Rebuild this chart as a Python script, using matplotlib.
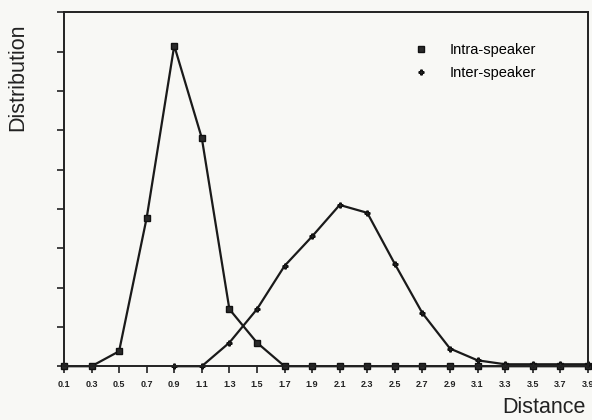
import matplotlib.pyplot as plt

plt.rcParams['font.family'] = ['Liberation Sans', 'DejaVu Sans']

distance = [0.1, 0.3, 0.5, 0.7, 0.9, 1.1, 1.3, 1.5, 1.7, 1.9,
            2.1, 2.3, 2.5, 2.7, 2.9, 3.1, 3.3, 3.5, 3.7, 3.9]
tick_labels = ['0.1', '0.3', '0.5', '0.7', '0.9', '1.1', '1.3', '1.5', '1.7', '1.9',
               '2.1', '2.3', '2.5', '2.7', '2.9', '3.1', '3.3', '3.5', '3.7', '3.9']
intra = [0.0, 0.0, 0.38, 3.77, 8.15, 5.8, 1.45, 0.6, 0.0, 0.0,
         0.0, 0.0, 0.0, 0.0, 0.0, 0.0, 0.0, 0.0, 0.0, 0.0]
inter_x = distance[4:]
inter = [0.0, 0.0, 0.6, 1.45, 2.55, 3.3, 4.1, 3.9, 2.6, 1.35,
         0.45, 0.15, 0.05, 0.05, 0.05, 0.05]

bg = '#f8f8f5'
fig = plt.figure(figsize=(5.92, 4.2), dpi=100, facecolor=bg)
ax = fig.add_axes([0.108, 0.128, 0.885, 0.843])
ax.set_facecolor(bg)

ax.plot(distance, intra, '-', color='#1a1a1a', lw=1.6, marker='s',
        ms=4.5, mfc='#2a2a2a', mec='#111111', label='Intra-speaker', clip_on=False)
ax.plot(inter_x, inter, '-', color='#1a1a1a', lw=1.6, marker='P',
        ms=3.5, mfc='#2a2a2a', mec='#111111', label='Inter-speaker', clip_on=False)

ax.set_xlim(0.1, 3.9)
ax.set_ylim(0, 9)
ax.set_xticks(distance)
ax.set_xticklabels(tick_labels, fontsize=6.5, fontweight='bold')
ax.set_yticks(range(0, 10))
ax.set_yticklabels([])
ax.tick_params(axis='both', direction='out', length=5, width=1.2, colors='#222222')
ax.tick_params(axis='x', pad=5)
for s in ax.spines.values():
    s.set_linewidth(1.4)
    s.set_color('#222222')

leg = ax.legend(loc='upper left', bbox_to_anchor=(0.656, 0.93), frameon=False,
                fontsize=10.5, handlelength=1.0, handletextpad=1.45, labelspacing=0.65,
                borderaxespad=0.0)
for line in leg.get_lines():
    line.set_linestyle('none')

fig.text(0.03, 0.817, 'Distribution', rotation=90, fontsize=15.5, color='#222222',
         ha='center', va='center')
fig.text(0.99, 0.029, 'Distance', fontsize=15.5, color='#222222', ha='right', va='center')

fig.savefig('out.png', dpi=100, facecolor=fig.get_facecolor())
